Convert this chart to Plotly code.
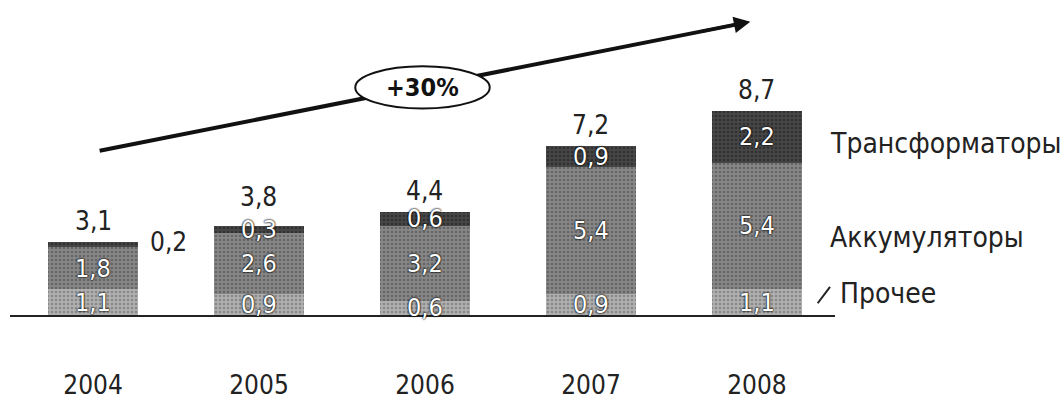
import plotly.graph_objects as go

years = ["2004", "2005", "2006", "2007", "2008"]
other = [1.1, 0.9, 0.6, 0.9, 1.1]
batteries = [1.8, 2.6, 3.2, 5.4, 5.4]
transformers = [0.2, 0.3, 0.6, 0.9, 2.2]
totals = [3.1, 3.8, 4.4, 7.2, 8.7]
series_names = ["Прочее", "Аккумуляторы", "Трансформаторы"]
growth_label = "+30%"

FONT = "DejaVu Sans Condensed, DejaVu Sans, sans-serif"
fig = go.Figure()


def fmt(v):
    return ("%.1f" % v).replace(".", ",")


series = [other, batteries, transformers]
colors = ["#b0b0b0", "#878787", "#464646"]
fg = ["#606060", "#444444", "#1a1a1a"]
for name, vals, col, fgc in zip(series_names, series, colors, fg):
    fig.add_trace(go.Bar(
        x=years, y=vals, name=name, width=0.54,
        marker=dict(color=col, line=dict(width=0),
                    pattern=dict(shape=".", fgcolor=fgc, size=4, solidity=0.35)),
        hoverinfo="skip",
    ))

# segment labels at segment midpoints
base = [0.0] * len(years)
for vals in series:
    for i, v in enumerate(vals):
        if v >= 0.25:
            fig.add_annotation(x=i, y=base[i] + v / 2, text=fmt(v), showarrow=False,
                               yanchor="middle",
                               font=dict(family=FONT, size=25, color="#ffffff",
                                         shadow="0px 0px 2px #000, 0px 0px 2px #000"))
        base[i] += v

# totals above bars
for i, t in enumerate(totals):
    shift = 12 if transformers[i] < 0.5 and transformers[i] >= 0.25 else 4
    fig.add_annotation(x=i, y=t, text=fmt(t), showarrow=False, yanchor="bottom",
                       yshift=shift, font=dict(family=FONT, size=26, color="#222"))

# small segment label outside
for i, v in enumerate(transformers):
    if v < 0.25:
        fig.add_annotation(x=i + 0.33, y=totals[i], text=fmt(v), showarrow=False,
                           xanchor="left", yanchor="middle",
                           font=dict(family=FONT, size=26, color="#222"))

# right-side series labels
label_y = [0.9, 3.3, 7.3]
label_x = [1.004, 0.991, 0.991]
for name, ly, lx in zip(series_names, label_y, label_x):
    fig.add_annotation(xref="paper", x=lx, y=ly, text=name, showarrow=False,
                       xanchor="left", yanchor="middle",
                       font=dict(family=FONT, size=28, color="#222"))
fig.add_shape(type="line", xref="paper", x0=0.979, x1=0.994, y0=0.5, y1=1.2,
              line=dict(color="#222", width=2))

# growth arrow
x0, y0, x1, y1 = 0.04, 7.0, 3.96, 12.5
fig.add_shape(type="line", x0=x0, y0=y0, x1=x1 - 0.05, y1=y1 - 0.07,
              line=dict(color="#111", width=4), layer="above")
fig.add_annotation(x=x1, y=y1, ax=x1 - 0.3, ay=y1 - 0.42, axref="x", ayref="y",
                   showarrow=True, arrowhead=2, arrowsize=1.1, arrowwidth=3,
                   arrowcolor="#111", text="")
fig.add_shape(type="circle", x0=1.58, x1=2.39, y0=8.8, y1=10.6,
              fillcolor="white", line=dict(color="#111", width=2), layer="above")
fig.add_annotation(x=1.985, y=9.7, text="<b>" + growth_label + "</b>", showarrow=False,
                   font=dict(family=FONT, size=25, color="#111"))

fig.update_layout(
    barmode="stack", width=1063, height=410,
    margin=dict(l=10, r=228, t=10, b=92),
    plot_bgcolor="white", paper_bgcolor="white",
    showlegend=False, separators=", ",
    font=dict(family=FONT, color="#222"),
)
fig.update_xaxes(type="category", range=[-0.5, 4.47], showline=True, linecolor="#222",
                 linewidth=2, ticks="", showgrid=False, zeroline=False,
                 tickfont=dict(family=FONT, size=26, color="#222"),
                 ticklabelstandoff=46)
fig.update_yaxes(range=[0, 13], visible=False, showgrid=False, zeroline=False)

fig.write_html("out.html")
